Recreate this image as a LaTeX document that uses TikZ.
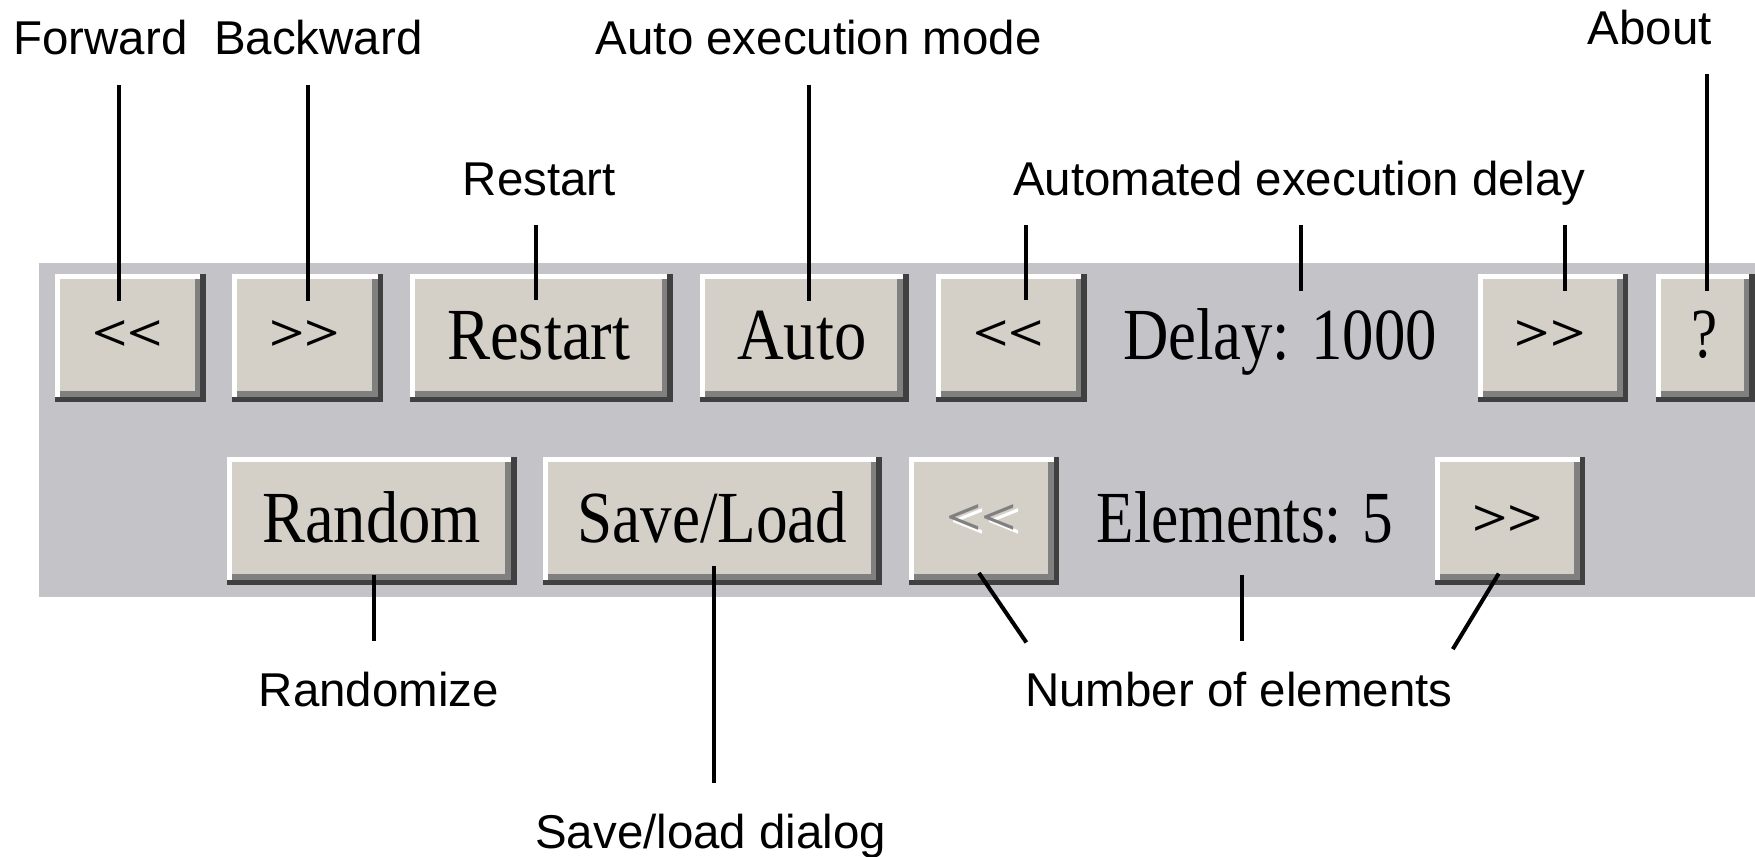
\documentclass[tikz,border=0pt]{standalone}
\usepackage{fontspec}
\usepackage{graphicx}
\setmainfont{Liberation Sans}
\newfontfamily\btnfont{Liberation Serif}
\definecolor{panelbg}{RGB}{196,195,199}
\definecolor{btnface}{RGB}{212,208,200}
\definecolor{btnshadow}{RGB}{128,128,128}
\definecolor{btndark}{RGB}{64,64,64}
% x1 y1 x2 y2 (y grows downward)
\newcommand\winbtn[4]{%
  \fill[btndark] (#1,#2) rectangle (#3,#4);
  \fill[white] (#1,#2) rectangle ({#3-5},{#4-4.5});
  \fill[btnshadow] ({#1+4.5},{#2+4.5}) rectangle ({#3-5},{#4-4.5});
  \fill[btnface] ({#1+4.5},{#2+4.5}) rectangle ({#3-10},{#4-10});
}
\newcommand\bt[2][0.88]{\scalebox{#1}[1]{#2}}
\newcommand\arr[1]{\scalebox{0.85}[0.7]{\bfseries #1}}
\begin{document}
\begin{tikzpicture}[x=0.5pt,y=-0.5pt,
  lbl/.style={font=\fontsize{21.2}{25}\selectfont, anchor=base, inner sep=0pt},
  conn/.style={line width=1.8pt, line cap=butt},
  btxt/.style={font=\btnfont\fontsize{32.8}{36}\selectfont, anchor=base, inner sep=0pt},
  barr/.style={font=\btnfont\fontsize{32.8}{36}\selectfont, anchor=center, inner sep=0pt},
]
\useasboundingbox (0,0) rectangle (1568,765);
\clip (0,0) rectangle (1568,765);
\fill[panelbg] (35,235) rectangle (1600,533);

% ---- top row buttons ----
\winbtn{49.5}{244.6}{184.1}{359.6}
\winbtn{207.4}{244.6}{342.4}{359.6}
\winbtn{366.4}{244.6}{601.2}{359.6}
\winbtn{625.2}{244.6}{811.8}{359.6}
\winbtn{836.2}{244.6}{971.1}{359.6}
\winbtn{1320.7}{244.6}{1454.7}{359.6}
\winbtn{1479.5}{244.6}{1568}{359.6}
% ---- bottom row buttons ----
\winbtn{202.5}{408.3}{461.6}{522.9}
\winbtn{485.5}{408.3}{788}{522.9}
\winbtn{812}{408.3}{946.3}{522.9}
\winbtn{1282.3}{408.3}{1416.5}{522.9}

% ---- button texts ----
\node[barr] (bFwd) at (114.3,299.4) {\arr{<<}};
\node[barr] (bBwd) at (272.4,299.4) {\arr{>>}};
\node[btxt] (bRestart) at (481.3,321) {\bt{Restart}};
\node[btxt] (bAuto) at (716.5,321) {\bt{Auto}};
\node[barr] (bDelDown) at (901.1,299.4) {\arr{<<}};
\node[btxt, anchor=base west] (tDelay) at (1003,321) {\bt[0.855]{Delay: 1000}};
\node[barr] (bDelUp) at (1385.2,299.4) {\arr{>>}};
\node[barr] (bAbout) at (1522.7,299.4) {\scalebox{0.8}[0.96]{?}};

\node[btxt] (bRandom) at (332,484.5) {\bt{Random}};
\node[btxt] (bSave) at (636.5,484.5) {\bt[0.86]{Save/Load}};
\node[barr] (bElDown) at (877,466) {\makebox[0pt][l]{\hspace{2pt}\raisebox{-2pt}{\textcolor{white}{\arr{<<}}}}\textcolor{btnshadow}{\arr{<<}}};
\node[btxt, anchor=base west] (tElem) at (979.4,484.5) {\bt[0.835]{Elements: 5}};
\node[barr] (bElUp) at (1347,465) {\arr{>>}};

% ---- labels ----
\node[lbl] (lFwd) at (89.7,49.1) {Forward};
\node[lbl] (lBwd) at (284.4,49.1) {Backward};
\node[lbl] (lAutoMode) at (731.5,49.1) {Auto execution mode};
\node[lbl] (lAbout) at (1473.9,40.2) {About};
\node[lbl] (lRestart) at (481.8,175) {Restart};
\node[lbl] (lDelay) at (1161,175) {Automated execution delay};
\node[lbl] (lRandom) at (338.5,631) {Randomize};
\node[lbl] (lNum) at (1106.9,631.3) {Number of elements};
\node[lbl] (lSave) at (635,757.8) {Save/load dialog};

% ---- connector end points ----
\coordinate (cFwdA) at (106,76);      \coordinate (cFwdB) at (106,269);
\coordinate (cBwdA) at (275.6,76);    \coordinate (cBwdB) at (275.6,269);
\coordinate (cAutoA) at (723,76);     \coordinate (cAutoB) at (723,269);
\coordinate (cAboutA) at (1525,66);   \coordinate (cAboutB) at (1525,260.4);
\coordinate (cRestA) at (478.8,201);  \coordinate (cRestB) at (478.8,267.8);
\coordinate (cD1A) at (917,201);      \coordinate (cD1B) at (917,267.8);
\coordinate (cD2A) at (1162,201);     \coordinate (cD2B) at (1162,260.4);
\coordinate (cD3A) at (1398,201);     \coordinate (cD3B) at (1398,260.4);
\coordinate (cRandA) at (334,513.4);  \coordinate (cRandB) at (334,573);
\coordinate (cSaveA) at (637.8,505.4);\coordinate (cSaveB) at (637.8,699.6);
\coordinate (cN1A) at (874.6,511.9);  \coordinate (cN1B) at (917,574);
\coordinate (cN2A) at (1110,513.4);   \coordinate (cN2B) at (1110,573);
\coordinate (cN3A) at (1339,512.5);   \coordinate (cN3B) at (1298,580);

\draw[conn] (cFwdA) -- (cFwdB);
\draw[conn] (cBwdA) -- (cBwdB);
\draw[conn] (cAutoA) -- (cAutoB);
\draw[conn] (cAboutA) -- (cAboutB);
\draw[conn] (cRestA) -- (cRestB);
\draw[conn] (cD1A) -- (cD1B);
\draw[conn] (cD2A) -- (cD2B);
\draw[conn] (cD3A) -- (cD3B);
\draw[conn] (cRandA) -- (cRandB);
\draw[conn] (cSaveA) -- (cSaveB);
\draw[conn] (cN1A) -- (cN1B);
\draw[conn] (cN2A) -- (cN2B);
\draw[conn] (cN3A) -- (cN3B);
\end{tikzpicture}
\end{document}
